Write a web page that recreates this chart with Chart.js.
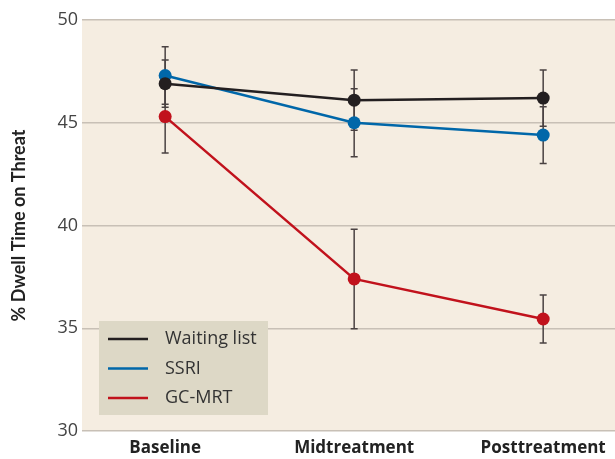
<!DOCTYPE html>
<html><head><meta charset="utf-8">
<script src="https://cdn.jsdelivr.net/npm/chart.js@4/dist/chart.umd.min.js"></script>
<style>html,body{margin:0;padding:0;background:#fff}#wrap{width:615px;height:459px;position:relative}</style>
</head><body><div id="wrap"><canvas id="c" width="615" height="459"></canvas></div>
<script>
const categories = ["Baseline", "Midtreatment", "Posttreatment"];
const seriesNames = ["Waiting list", "SSRI", "GC-MRT"];
const waitingList = [46.9, 46.1, 46.2];
const ssri = [47.3, 45.0, 44.4];
const gcmrt = [45.3, 37.4, 35.45];
const waitingListErr = [1.15, 1.47, 1.37];
const ssriErr = [1.4, 1.65, 1.38];
const gcmrtErr = [1.77, 2.42, 1.17];
const yTicks = [30, 35, 40, 45, 50];
const colors = ["#231f20", "#0067a9", "#c1121c"];

const values = [waitingList, ssri, gcmrt];
const errs = [waitingListErr, ssriErr, gcmrtErr];

const bgPlugin = {
  id: 'bg',
  beforeDraw(chart) {
    const {ctx, chartArea: a} = chart;
    ctx.save(); ctx.fillStyle = '#f5ede1';
    ctx.fillRect(a.left, a.top, a.right - a.left, a.bottom - a.top);
    ctx.restore();
  }
};
const errPlugin = {
  id: 'err',
  beforeDatasetsDraw(chart) {
    const {ctx, scales: {x, y}} = chart;
    ctx.save(); ctx.strokeStyle = '#4a4242'; ctx.lineWidth = 1.5;
    values.forEach((vals, d) => {
      vals.forEach((v, i) => {
        const px = x.getPixelForValue(i);
        const top = y.getPixelForValue(v + errs[d][i]);
        const bot = y.getPixelForValue(v - errs[d][i]);
        ctx.beginPath();
        ctx.moveTo(px, top); ctx.lineTo(px, bot);
        ctx.moveTo(px - 3.5, top); ctx.lineTo(px + 3.5, top);
        ctx.moveTo(px - 3.5, bot); ctx.lineTo(px + 3.5, bot);
        ctx.stroke();
      });
    });
    ctx.restore();
  }
};
const legendPlugin = {
  id: 'leg',
  afterDatasetsDraw(chart) {
    const {ctx} = chart;
    ctx.save();
    ctx.fillStyle = '#ddd8c6';
    ctx.fillRect(99, 321, 169, 94);
    seriesNames.forEach((n, i) => {
      const yy = 339 + i * 29.5;
      ctx.strokeStyle = colors[i]; ctx.lineWidth = 2.5;
      ctx.beginPath(); ctx.moveTo(108, yy); ctx.lineTo(148, yy); ctx.stroke();
      ctx.fillStyle = '#333'; ctx.font = '18px "Open Sans"'; ctx.textBaseline = 'middle';
      ctx.fillText(n, 165, yy);
    });
    ctx.restore();
  }
};

new Chart(document.getElementById('c'), {
  type: 'line',
  data: {
    datasets: seriesNames.map((n, d) => ({
      label: n,
      data: values[d].map((v, i) => ({x: i, y: v})),
      borderColor: colors[d], backgroundColor: colors[d],
      borderWidth: 2.5, pointRadius: 6.5, pointHoverRadius: 6.5,
      pointBorderWidth: 0, tension: 0
    }))
  },
  options: {
    responsive: false, animation: false, devicePixelRatio: 1,
    layout: {autoPadding: false, padding: {top: 20, right: 0, left: 0, bottom: 0}},
    plugins: {legend: {display: false}, tooltip: {enabled: false}},
    scales: {
      x: {
        type: 'linear', min: -0.44, max: 2.38,
        afterBuildTicks(s) { s.ticks = categories.map((c, i) => ({value: i})); },
        afterFit(s) { s.height = 28; s.paddingLeft = 0; s.paddingRight = 0; },
        ticks: {callback: (v) => categories[v], color: '#222', font: {family: 'Open Sans', size: 17, weight: 'bold'}, padding: 7, maxRotation: 0},
        grid: {display: false, drawTicks: false}, border: {display: false}
      },
      y: {
        min: 30, max: 50,
        afterBuildTicks(s) { s.ticks = yTicks.map(v => ({value: v})); },
        afterFit(s) { s.width = 82; },
        ticks: {color: '#444', font: {family: 'Open Sans', size: 18}, padding: 4},
        grid: {color: '#c8c0b6', lineWidth: 1.5, drawTicks: false},
        border: {display: false},
        title: {display: true, text: '% Dwell Time on Threat', color: '#222', font: {family: 'Lato', size: 18, weight: 'bold'}, padding: {top: 8, bottom: 0}}
      }
    }
  },
  plugins: [bgPlugin, errPlugin, legendPlugin]
});
</script></body></html>
